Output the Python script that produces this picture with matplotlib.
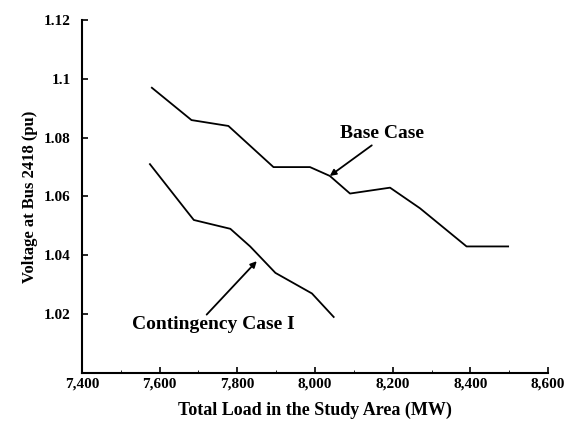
import matplotlib.pyplot as plt
from matplotlib.ticker import FuncFormatter

# Base case curve
base_load = [7580, 7682, 7777, 7893, 7987, 8038, 8090, 8193, 8270, 8390, 8497]
base_volt = [1.097, 1.086, 1.084, 1.070, 1.070, 1.067, 1.061, 1.063, 1.056, 1.043, 1.043]

# Contingency case I curve
cont_load = [7575, 7670, 7688, 7782, 7833, 7898, 7992, 8048]
cont_volt = [1.071, 1.055, 1.052, 1.049, 1.043, 1.034, 1.027, 1.019]

x_ticks = [7400, 7600, 7800, 8000, 8200, 8400, 8600]
y_ticks = [1.00, 1.02, 1.04, 1.06, 1.08, 1.10, 1.12]
y_labels = ["", "1.02", "1.04", "1.06", "1.08", "1.1", "1.12"]

plt.rcParams["font.family"] = ["Liberation Serif", "DejaVu Serif"]
plt.rcParams["font.weight"] = "bold"

fig = plt.figure(figsize=(5.77, 4.29), dpi=100)
ax = fig.add_axes([0.142, 0.131, 0.808, 0.822])

ax.plot(base_load, base_volt, color="black", lw=1.3)
ax.plot(cont_load, cont_volt, color="black", lw=1.3)

ax.set_xlim(7400, 8600)
ax.set_ylim(1.00, 1.12)
ax.set_xticks(x_ticks)
ax.xaxis.set_major_formatter(FuncFormatter(lambda v, p: f"{int(v):,}"))
ax.set_yticks(y_ticks)
ax.set_yticklabels(y_labels)
ax.tick_params(direction="in", length=4, width=1.2, labelsize=11)
ax.tick_params(axis="y", pad=8)
ax.set_xticks([7500, 7700, 7900, 8100, 8300, 8500], minor=True)
ax.tick_params(which="minor", direction="in", length=2)

for s in ["top", "right"]:
    ax.spines[s].set_visible(False)
for s in ["left", "bottom"]:
    ax.spines[s].set_linewidth(1.5)

ax.set_xlabel("Total Load in the Study Area (MW)", fontsize=13, fontweight="bold", labelpad=8)
ax.set_ylabel("Voltage at Bus 2418 (pu)", fontsize=12, fontweight="bold", labelpad=4)

arrow = dict(arrowstyle="-|>", color="black", lw=1.3, shrinkA=0, shrinkB=0, mutation_scale=9)
ax.text(8172, 1.0814, "Base Case", ha="center", va="center", fontsize=14, fontweight="bold")
ax.annotate("", xy=(8038, 1.067), xytext=(8146, 1.0774), arrowprops=arrow)
ax.text(7737, 1.0164, "Contingency Case I", ha="center", va="center", fontsize=14, fontweight="bold")
ax.annotate("", xy=(7850, 1.038), xytext=(7721, 1.0198), arrowprops=arrow)

fig.savefig("out.png", dpi=100)
